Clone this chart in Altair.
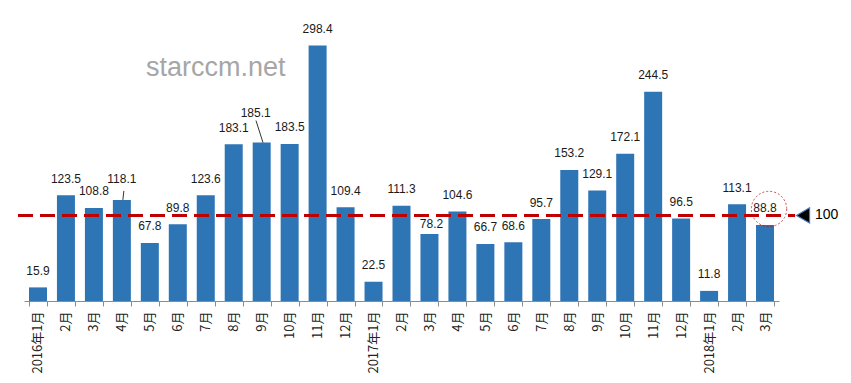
import altair as alt
import pandas as pd

labels = ["2016年1月", "2月", "3月", "4月", "5月", "6月", "7月", "8月", "9月", "10月", "11月", "12月",
          "2017年1月", "2月", "3月", "4月", "5月", "6月", "7月", "8月", "9月", "10月", "11月", "12月",
          "2018年1月", "2月", "3月"]
values = [15.9, 123.5, 108.8, 118.1, 67.8, 89.8, 123.6, 183.1, 185.1, 183.5, 298.4, 109.4,
          22.5, 111.3, 78.2, 104.6, 66.7, 68.6, 95.7, 153.2, 129.1, 172.1, 244.5, 96.5,
          11.8, 113.1, 88.8]
reference_value = 100

keys = [f"{i:02d}|{l}" for i, l in enumerate(labels)]

# label offsets (annotation placement, matching the original's manual tweaks)
label_shift = {8: (-6.0, -30.0), 3: (0.0, -21.0), 14: (2.0, -10.0)}
default_shift = (0.0, -16.5)
groups = {}
for i in range(len(keys)):
    groups.setdefault(label_shift.get(i, default_shift), []).append(i)

df = pd.DataFrame({"key": keys, "value": values, "label": [f"{v:.1f}" for v in values]})

W, H = 755, 291
x = alt.X("key:N", sort=keys, title=None,
          scale=alt.Scale(paddingInner=0.36, paddingOuter=0.18),
          axis=alt.Axis(labelExpr="split(datum.value, '|')[1]", labelAngle=270,
                        tickBand="extent", tickSize=5, tickColor="#8c8c8c",
                        domainColor="#8c8c8c", labelFont="Noto Sans CJK SC",
                        labelFontSize=13, labelColor="#222", labelPadding=5))
y = alt.Y("value:Q", scale=alt.Scale(domain=[0, 340], nice=False, zero=True), axis=None)

bars = alt.Chart(df).mark_bar(color="#2E75B6", size=18).encode(x=x, y=y)

text_layers = []
for (dx, dy), idxs in groups.items():
    text_layers.append(
        alt.Chart(df.iloc[idxs]).mark_text(dx=dx, dy=dy, font="Liberation Sans", fontSize=12,
                                           color="#1a1a1a", baseline="middle")
        .encode(x=x, y=y, text="label:N"))

leaders = []
for idx, (x1o, y1o, x2o, y2o) in {8: (-5.7, -22.0, 1.3, 0.0), 3: (2.0, -9.0, 1.0, 0.0)}.items():
    leaders.append(
        alt.Chart(df.iloc[[idx]]).mark_rule(color="#333", strokeWidth=1,
                                            xOffset=x1o, yOffset=y1o, x2Offset=x2o, y2Offset=y2o)
        .encode(x=x, x2="key:N", y=y, y2="value:Q"))

ref = pd.DataFrame({"value": [reference_value]})
ref_line = alt.Chart(ref).mark_rule(color="#C00000", strokeWidth=3, strokeDash=[15, 7]).encode(
    y=y, x=alt.value(-6), x2=alt.value(771))
tri = alt.Chart(ref).mark_point(shape="triangle-left", filled=True, fill="#000", stroke="#4a7ebb",
                                strokeWidth=1.2, size=230, opacity=1).encode(
    y=y, x=alt.value(779))
ref_txt = alt.Chart(ref).mark_text(align="left", baseline="middle", font="Liberation Sans",
                                   fontSize=14, color="#000").encode(
    y=y, x=alt.value(791), text=alt.value(str(reference_value)))

circle = alt.Chart(df.iloc[[len(df) - 1]]).mark_point(
    shape="circle", size=1250, filled=False, stroke="#C00000", strokeWidth=1,
    strokeDash=[2, 2], xOffset=4, yOffset=-16).encode(x=x, y=y)

watermark = alt.Chart(ref).mark_text(align="left", baseline="middle", font="Liberation Sans",
                                     fontSize=27, color="#a6a6a6").encode(
    x=alt.value(122), y=alt.value(58), text=alt.value("starccm.net"))

chart = alt.layer(bars, ref_line, *text_layers, *leaders, tri, ref_txt, circle, watermark).properties(
    width=W, height=H, autosize="none",
    padding={"left": 16, "top": 2, "right": 64, "bottom": 74},
).configure_view(stroke=None)

chart.save("out.html", embed_options={"renderer": "svg", "actions": False})
